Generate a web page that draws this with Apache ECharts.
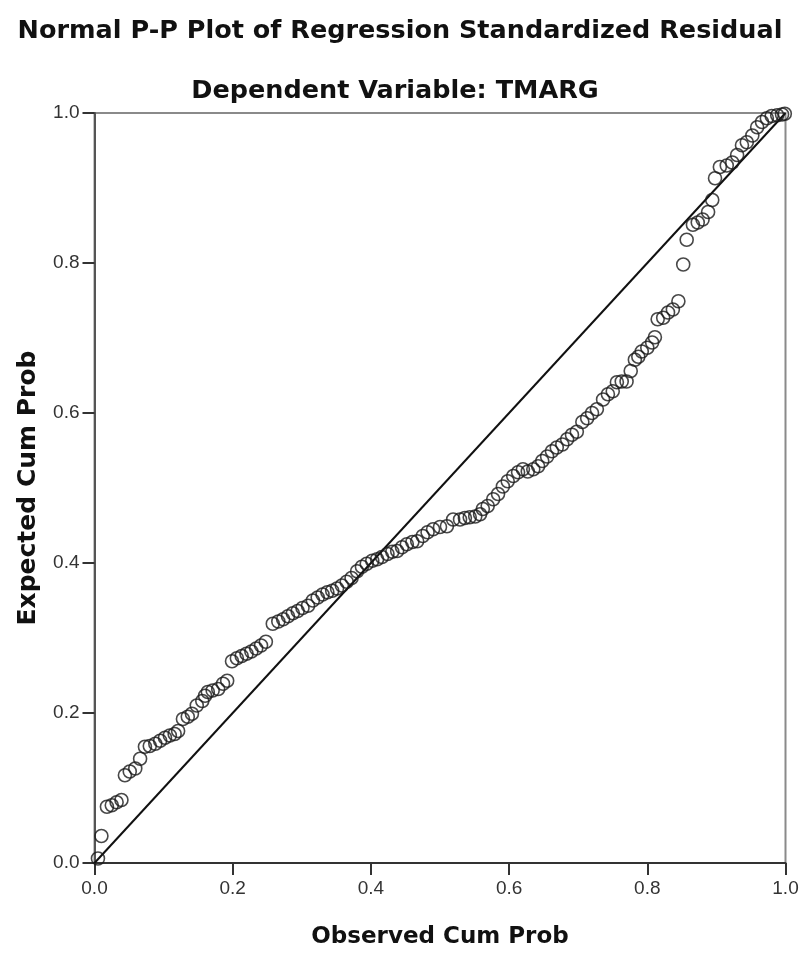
<!DOCTYPE html>
<html>
<head>
<meta charset="utf-8">
<script src="https://cdn.jsdelivr.net/npm/echarts@6/dist/echarts.min.js"></script>
<style>html,body{margin:0;padding:0;background:#fff;}#chart{width:803px;height:954px;}</style>
</head>
<body>
<div id="chart"></div>
<script>
// Observed cum prob (x) and expected cum prob (y) of the residuals
const observedCumProb = [0.005,0.010,0.018,0.025,0.032,0.039,0.044,0.051,0.059,0.066,0.073,0.080,0.088,0.095,0.102,0.109,0.116,0.121,0.128,0.135,0.141,0.148,0.156,0.160,0.164,0.171,0.179,0.186,0.192,0.199,0.206,0.213,0.220,0.227,0.234,0.241,0.248,0.258,0.266,0.273,0.280,0.287,0.294,0.301,0.309,0.316,0.323,0.330,0.337,0.344,0.351,0.358,0.365,0.372,0.380,0.387,0.394,0.402,0.409,0.416,0.424,0.431,0.438,0.445,0.452,0.460,0.467,0.475,0.482,0.490,0.500,0.510,0.519,0.529,0.536,0.543,0.551,0.558,0.562,0.569,0.577,0.584,0.591,0.598,0.606,0.613,0.620,0.627,0.635,0.642,0.648,0.655,0.662,0.669,0.677,0.684,0.691,0.698,0.706,0.713,0.720,0.727,0.736,0.743,0.750,0.756,0.763,0.770,0.776,0.782,0.787,0.792,0.800,0.807,0.811,0.815,0.823,0.830,0.837,0.845,0.852,0.857,0.866,0.873,0.880,0.888,0.894,0.898,0.905,0.915,0.923,0.930,0.937,0.944,0.952,0.959,0.966,0.973,0.980,0.988,0.995,0.999];
const expectedCumProb = [0.006,0.036,0.075,0.077,0.081,0.084,0.117,0.122,0.126,0.139,0.155,0.156,0.159,0.163,0.167,0.170,0.172,0.176,0.192,0.195,0.199,0.210,0.216,0.223,0.228,0.230,0.232,0.239,0.243,0.269,0.273,0.276,0.279,0.282,0.286,0.290,0.295,0.319,0.322,0.325,0.329,0.333,0.336,0.340,0.343,0.350,0.354,0.358,0.361,0.363,0.366,0.370,0.375,0.380,0.389,0.395,0.399,0.403,0.405,0.408,0.412,0.415,0.416,0.421,0.425,0.428,0.429,0.436,0.441,0.445,0.448,0.449,0.458,0.458,0.460,0.461,0.462,0.465,0.472,0.476,0.485,0.492,0.502,0.509,0.516,0.521,0.525,0.522,0.525,0.529,0.536,0.542,0.549,0.554,0.558,0.565,0.571,0.575,0.588,0.593,0.600,0.605,0.618,0.625,0.629,0.641,0.642,0.642,0.656,0.671,0.675,0.682,0.687,0.694,0.701,0.725,0.727,0.734,0.738,0.749,0.798,0.831,0.851,0.854,0.858,0.868,0.884,0.913,0.928,0.930,0.934,0.944,0.957,0.961,0.970,0.981,0.988,0.993,0.996,0.997,0.998,0.999];
// Reference diagonal
const refLineX = [0, 1];
const refLineY = [0, 1];
// Tick labels
const xTickLabels = ['0.0','0.2','0.4','0.6','0.8','1.0'];
const yTickLabels = ['0.0','0.2','0.4','0.6','0.8','1.0'];

const points = observedCumProb.map((x, i) => [x, expectedCumProb[i]]);
const refLine = refLineX.map((x, i) => [x, refLineY[i]]);

const chart = echarts.init(document.getElementById('chart'), null, {renderer: 'canvas'});
const tickFmt = labels => (v => labels[Math.round(v / 0.2)] ?? '');

chart.setOption({
  animation: false,
  backgroundColor: '#fff',
  title: [
    {text: 'Normal P-P Plot of Regression Standardized Residual', left: 395, top: 13, textAlign: 'center',
     textStyle: {fontFamily: 'DejaVu Sans', fontWeight: 'bold', fontSize: 25.5, color: '#111'}},
    {text: 'Dependent Variable: TMARG', left: 390, top: 73, textAlign: 'center',
     textStyle: {fontFamily: 'DejaVu Sans', fontWeight: 'bold', fontSize: 25.5, color: '#111'}}
  ],
  grid: {left: 94.5, right: 17.5, top: 113, bottom: 90, show: true, borderColor: '#8a8a8a', borderWidth: 2, containLabel: false},
  xAxis: {
    type: 'value', min: 0, max: 1, interval: 0.2,
    name: 'Observed Cum Prob', nameLocation: 'middle', nameGap: 63,
    nameTextStyle: {fontFamily: 'DejaVu Sans', fontWeight: 'bold', fontSize: 23, color: '#111'},
    axisLine: {show: true, onZero: false, lineStyle: {color: '#333', width: 2}},
    axisTick: {show: true, length: 12, lineStyle: {color: '#333', width: 2}},
    axisLabel: {margin: 16, formatter: tickFmt(xTickLabels), fontFamily: 'Liberation Sans', fontSize: 19, color: '#333'},
    splitLine: {show: false}
  },
  yAxis: {
    type: 'value', min: 0, max: 1, interval: 0.2,
    name: 'Expected Cum Prob', nameLocation: 'middle', nameGap: 54,
    nameTextStyle: {fontFamily: 'DejaVu Sans', fontWeight: 'bold', fontSize: 25, color: '#111'},
    axisLine: {show: true, onZero: false, lineStyle: {color: '#555', width: 2}},
    axisTick: {show: true, length: 12, lineStyle: {color: '#333', width: 2}},
    axisLabel: {margin: 15, formatter: tickFmt(yTickLabels), fontFamily: 'Liberation Sans', fontSize: 19, color: '#333'},
    splitLine: {show: false}
  },
  series: [
    {type: 'line', data: refLine, symbol: 'none', lineStyle: {color: '#111', width: 2}, silent: true, z: 2},
    {type: 'scatter', data: points, symbol: 'circle', symbolSize: 13, clip: false,
     itemStyle: {color: 'rgba(255,255,255,0)', borderColor: '#1a1a1a', borderWidth: 1.6}, z: 3}
  ]
});
</script>
</body>
</html>
